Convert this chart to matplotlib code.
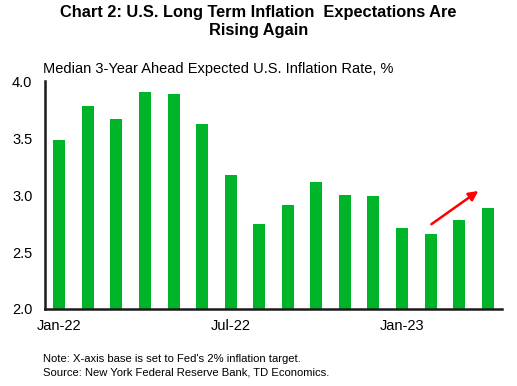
import matplotlib.pyplot as plt

plt.rcParams['font.family'] = ['Liberation Sans', 'DejaVu Sans']

# Median 3-year ahead expected inflation, Jan-22 .. Apr-23
months = ['Jan-22', 'Feb-22', 'Mar-22', 'Apr-22', 'May-22', 'Jun-22', 'Jul-22', 'Aug-22',
          'Sep-22', 'Oct-22', 'Nov-22', 'Dec-22', 'Jan-23', 'Feb-23', 'Mar-23', 'Apr-23']
values = [3.48, 3.78, 3.67, 3.90, 3.89, 3.62, 3.18, 2.75,
          2.91, 3.11, 3.00, 2.99, 2.71, 2.66, 2.78, 2.89]
tick_labels = ['Jan-22', 'Jul-22', 'Jan-23']

fig = plt.figure(figsize=(5.17, 3.86), dpi=100)
ax = fig.add_axes([0.087, 0.1995, 0.884, 0.5905])

x = list(range(len(months)))
ax.bar(x, [v - 2.0 for v in values], bottom=2.0, width=0.42, color='#00B42A')

ax.set_xlim(-0.5, len(months) - 0.5)
ax.set_ylim(2.0, 4.0)
ax.set_yticks([2.0, 2.5, 3.0, 3.5, 4.0])
ax.set_yticklabels(['2.0', '2.5', '3.0', '3.5', '4.0'])
ax.set_xticks([months.index(m) for m in tick_labels])
ax.set_xticklabels(tick_labels)
ax.tick_params(length=0, labelsize=10.5)
ax.tick_params(axis='y', pad=9)
ax.tick_params(axis='x', pad=7)

for s in ['top', 'right']:
    ax.spines[s].set_visible(False)
for s in ['left', 'bottom']:
    ax.spines[s].set_linewidth(1.8)
    ax.spines[s].set_color('#1a1a1a')

# arrow showing the recent rise
ax.annotate('', xy=(14.75, 3.05), xytext=(12.95, 2.73),
            arrowprops=dict(arrowstyle='-|>', color='#FF0000', lw=1.8,
                            mutation_scale=14))

fig.text(0.5, 0.988, 'Chart 2: U.S. Long Term Inflation  Expectations Are\nRising Again',
         ha='center', va='top', fontsize=11.8, fontweight='bold', linespacing=1.3)
fig.text(0.083, 0.821, 'Median 3-Year Ahead Expected U.S. Inflation Rate, %',
         ha='left', va='center', fontsize=10.5)
fig.text(0.083, 0.070, "Note: X-axis base is set to Fed's 2% inflation target.",
         ha='left', va='center', fontsize=8.1)
fig.text(0.083, 0.036, 'Source: New York Federal Reserve Bank, TD Economics.',
         ha='left', va='center', fontsize=8.1)

fig.savefig('out.png', dpi=100)
